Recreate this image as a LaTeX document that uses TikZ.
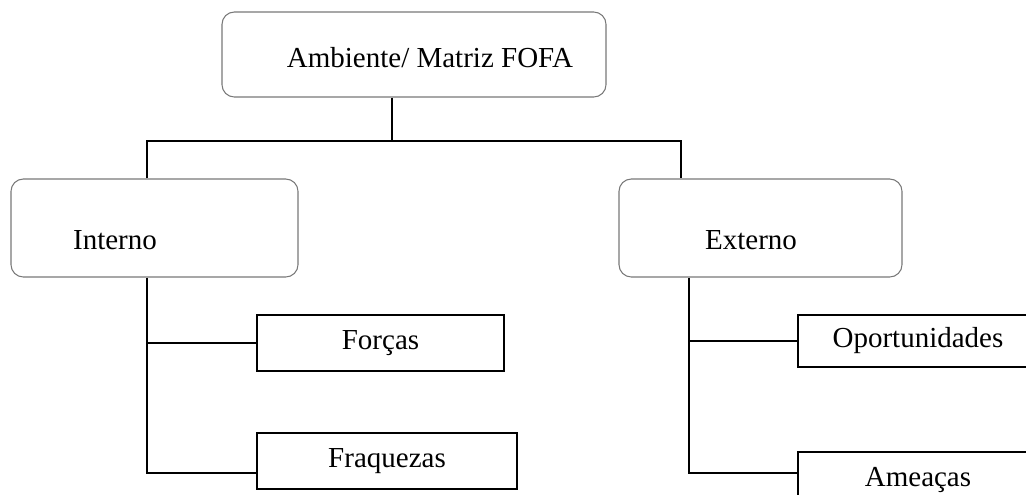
\documentclass[tikz,border=0pt]{standalone}
\usepackage{fontspec}
\setmainfont{Liberation Serif}
\usetikzlibrary{positioning}
\definecolor{boxGray}{RGB}{120,120,120}
\tikzset{
  roundbox/.style={rounded corners=7pt, draw=boxGray, line width=0.6pt, fill=white,
                   inner sep=0pt, font=\fontsize{16.5}{19}\selectfont},
  sqbox/.style={draw=black, line width=0.9pt, fill=white, align=center,
                inner sep=0pt, font=\fontsize{16.5}{19}\selectfont},
  link/.style={draw=black, line width=0.9pt}
}
\begin{document}
\begin{tikzpicture}[x=0.2mm, y=-0.2mm]
\clip (0,0) rectangle (1026,494);
% boxes
\node[roundbox, minimum width=76.8mm, minimum height=17mm,
      label={[font=\fontsize{16.5}{19}\selectfont, xshift=3.2mm, yshift=-0.6mm]center:Ambiente/ Matriz FOFA}] (top) at (414,54.5) {};
\node[roundbox, minimum width=57.4mm, minimum height=19.6mm,
      label={[font=\fontsize{16.5}{19}\selectfont, xshift=-7.9mm, yshift=-2.4mm]center:Interno}] (inn) at (154.5,228) {};
\node[roundbox, minimum width=56.6mm, minimum height=19.6mm,
      label={[font=\fontsize{16.5}{19}\selectfont, xshift=-1.9mm, yshift=-2.4mm]center:Externo}] (ext) at (760.5,228) {};
\node[sqbox, minimum width=49.4mm, minimum height=11.2mm] (forc) at (380.5,343) {Forças};
\node[sqbox, minimum width=52mm, minimum height=11.2mm] (fraq) at (387,461) {Fraquezas};
\node[sqbox, minimum width=48mm, minimum height=10.4mm] (opor) at (918,341) {Oportunidades};
\node[sqbox, minimum width=48mm, minimum height=11.2mm] (amea) at (918,480) {Ameaças};
% connectors
\coordinate (hub) at (392,141);
\coordinate (lft) at (147,141);
\coordinate (rgt) at (681,141);
\coordinate (itrunk) at (147,473);
\coordinate (etrunk) at (689,473);
\draw[link] (top.south -| hub) -- (hub);
\draw[link] (lft |- inn.north) -- (lft) -- (rgt) -- (rgt |- ext.north);
\draw[link] (inn.south -| itrunk) -- (itrunk) -- (fraq.west |- itrunk);
\draw[link] (itrunk |- forc.west) -- (forc.west);
\draw[link] (ext.south -| etrunk) -- (etrunk) -- (amea.west |- etrunk);
\draw[link] (etrunk |- opor.west) -- (opor.west);
\end{tikzpicture}
\end{document}
